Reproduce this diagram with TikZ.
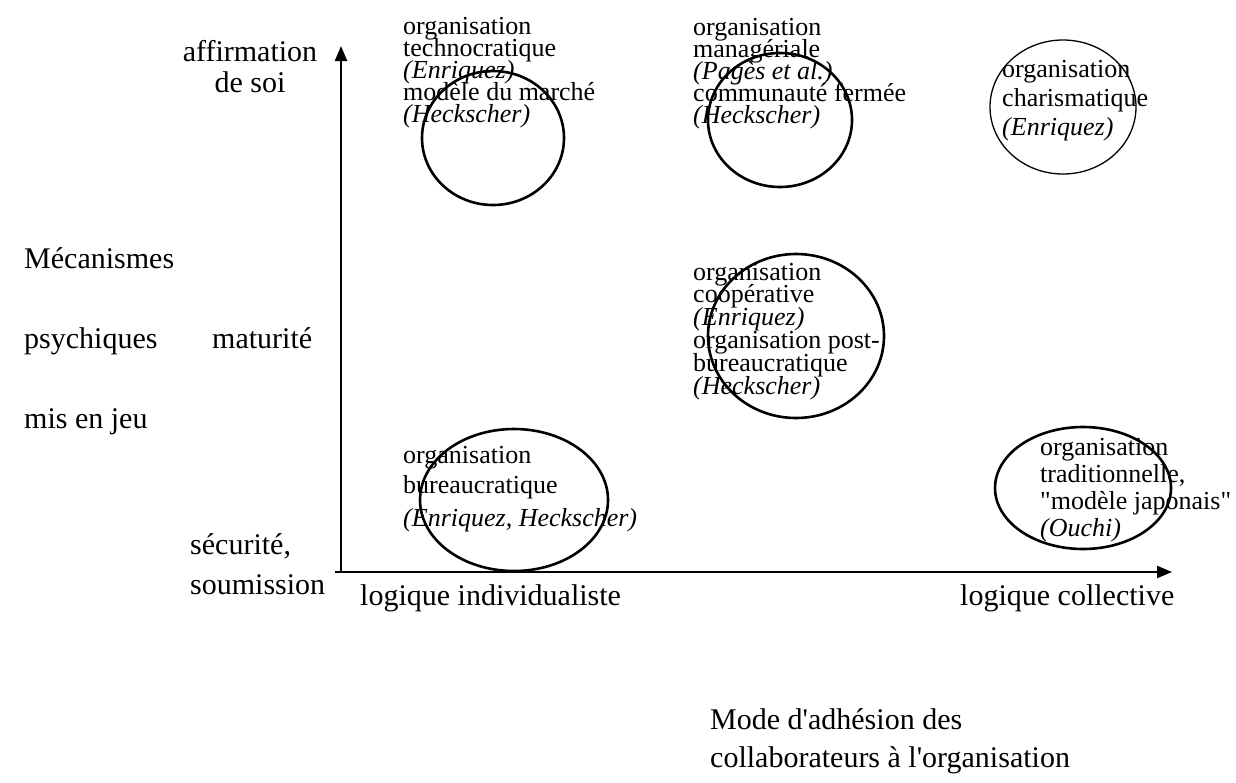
\documentclass[tikz,border=0pt]{standalone}
\usepackage{fontspec}
\setmainfont{Liberation Serif}
\usetikzlibrary{arrows.meta,shapes.geometric}
\begin{document}
\begin{tikzpicture}[x=1pt,y=-1pt,
  lbl/.style={inner sep=0pt,anchor=base west,align=left,font=\fontsize{30}{31}\selectfont},
  blk/.style={inner sep=0pt,anchor=base west,align=left,font={\fontsize{26}{22}\selectfont\lineskiplimit=-100pt}},
  ring/.style={ellipse,draw,line width=2.6pt,inner sep=0pt},
  thinring/.style={ellipse,draw,line width=1.3pt,inner sep=0pt},
  axis/.style={line width=2.2pt,-{Triangle[length=15pt,width=12pt]}}]
\useasboundingbox (0,0) rectangle (1236,782);
% axes
\coordinate (o) at (341,572);
\coordinate (ol) at (335,572);
\coordinate (ytip) at (341,46);
\coordinate (xtip) at (1172,572);
\draw[axis] (o) -- (ytip);
\draw[axis] (ol) -- (xtip);
% ellipses
\node[ring,minimum width=142pt,minimum height=134pt] (e1) at (493,138) {};
\node[ring,minimum width=144pt,minimum height=134pt] (e2) at (780,120) {};
\node[thinring,minimum width=146pt,minimum height=134pt] (e3) at (1063,107) {};
\node[ring,minimum width=176pt,minimum height=164pt] (e4) at (796,336) {};
\node[ring,minimum width=188pt,minimum height=142pt] (e5) at (514,500) {};
\node[ring,minimum width=176pt,minimum height=122pt] (e6) at (1083,488) {};
% axis labels
\node[lbl,align=center,anchor=base] (aff) at (250,92) {affirmation\\de soi};
\node[lbl] (mec) at (24,268) {Mécanismes};
\node[lbl] (psy) at (24,348) {psychiques};
\node[lbl] (mat) at (212,348) {maturité};
\node[lbl] (mis) at (24,428) {mis en jeu};
\node[lbl] (sec) at (190,554) {sécurité,};
\node[lbl] (sou) at (190,594) {soumission};
\node[lbl] (lind) at (360,605) {logique individualiste};
\node[lbl] (lcol) at (960,605) {logique collective};
\node[lbl] (mode) at (710,729) {Mode d\textquotesingle adhésion des};
\node[lbl] (coll) at (710,767) {collaborateurs à l\textquotesingle organisation};
% blocks (anchored at the baseline of their last line)
\node[blk] (t1) at (403,122) {organisation\\technocratique\\\textit{(Enriquez)}\\modèle du marché\\\textit{(Heckscher)}};
\node[blk] (t2) at (693,123) {organisation\\managériale\\\textit{(Pagès et al.)}\\communauté fermée\\\textit{(Heckscher)}};
\node[blk,font={\fontsize{26}{29}\selectfont\lineskiplimit=-100pt}] (t3) at (1002,135) {organisation\\charismatique\\\textit{(Enriquez)}};
\node[blk,font={\fontsize{26}{22.8}\selectfont\lineskiplimit=-100pt}] (t4) at (693,394) {organisation\\coopérative\\\textit{(Enriquez)}\\organisation post-\\bureaucratique\\\textit{(Heckscher)}};
\node[blk,font={\fontsize{26}{30}\selectfont\lineskiplimit=-100pt}] (t5) at (403,526) {organisation\\bureaucratique\\[3pt]\textit{(Enriquez, Heckscher)}};
\node[blk,font={\fontsize{26}{27}\selectfont\lineskiplimit=-100pt}] (t6) at (1040,536) {organisation\\traditionnelle,\\\textquotedbl{}modèle japonais\textquotedbl\\\textit{(Ouchi)}};
\end{tikzpicture}
\end{document}
